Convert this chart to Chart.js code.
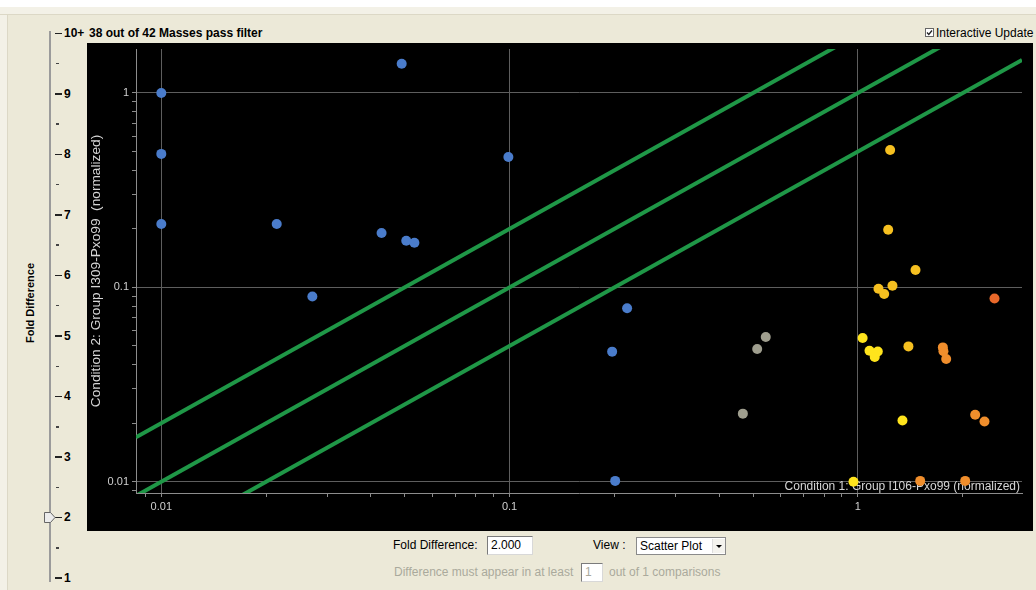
<!DOCTYPE html>
<html>
<head>
<meta charset="utf-8">
<title>Masses scatter plot</title>
<script src="https://cdn.jsdelivr.net/npm/chart.js@4.4.0/dist/chart.umd.min.js"></script>
<style>
  body { margin: 0; width: 1036px; height: 590px; overflow: hidden; position: relative;
         background: #ece9d8; font-family: Arial, "Liberation Sans", sans-serif; color: #000; }
  .abs { position: absolute; white-space: nowrap; }
  .lbl { font-size: 12px; line-height: 14px; }
  .bold { font-weight: bold; }
  .box { position: absolute; background: #fff; border-top: 1px solid #7b7b7b; border-left: 1px solid #7b7b7b;
         border-right: 1px solid #d8d8d8; border-bottom: 1px solid #d8d8d8; box-sizing: border-box;
         font-size: 12px; line-height: 16px; padding-left: 3px; }
  .dis { color: #aaa99c; }
  #plot { position: absolute; left: 87px; top: 43px; width: 946px; height: 488px; background: #000; }
</style>
</head>
<body>
<div class="abs" style="left:0;top:0;width:1036px;height:7px;background:#fff"></div>
<div class="abs" style="left:0;top:7px;width:1036px;height:7px;background:#f3f1e7;border-bottom:1px solid #dcd8c6"></div>
<div class="abs" style="left:0;top:15px;width:7px;height:575px;background:#f3f1e7;border-right:1px solid #dcd8c6"></div>

<!-- fold difference slider -->
<div id="slider"></div>
<div class="abs" style="left:49px;top:31px;width:2px;height:551px;background:#9b9b9b"></div>
<svg class="abs" style="left:44px;top:512px" width="12" height="11">
  <polygon points="0.5,0.5 6.5,0.5 11,5.5 6.5,10.5 0.5,10.5" fill="#ececec" stroke="#666" stroke-width="1"/>
</svg>
<div class="abs bold" style="left:30px;top:303px;font-size:11px;transform:translate(-50%,-50%) rotate(-90deg)">Fold Difference</div>

<div class="abs lbl bold" style="left:89px;top:26px">38 out of 42 Masses pass filter</div>
<svg class="abs" style="left:925px;top:28px" width="9" height="9">
  <rect x="0.5" y="0.5" width="8" height="8" fill="#fff" stroke="#666"/>
  <path d="M2 4.5 L3.8 6.5 L7 2.5" fill="none" stroke="#222" stroke-width="1.3"/>
</svg>
<div class="abs lbl" style="left:936px;top:26px">Interactive Update</div>

<div id="plot"><canvas id="chart" width="946" height="488"></canvas></div>

<!-- controls under the plot -->
<div class="abs lbl" style="left:393px;top:538px">Fold Difference:</div>
<div class="box" style="left:487px;top:536px;width:46px;height:19px">2.000</div>
<div class="abs lbl" style="left:593px;top:538px">View :</div>
<div class="box" style="left:636px;top:537px;width:90px;height:18px;border:1px solid #8a8a8a">Scatter Plot</div>
<div class="abs" style="left:712px;top:539px;width:12px;height:14px;background:#f4f3ee;border-left:1px solid #ddd"></div>
<div class="abs" style="left:716px;top:545px;width:0;height:0;border-left:3px solid transparent;border-right:3px solid transparent;border-top:3px solid #000"></div>
<div class="abs lbl dis" style="left:394px;top:565px">Difference must appear in at least</div>
<div class="box dis" style="left:581px;top:563px;width:22px;height:19px">1</div>
<div class="abs lbl dis" style="left:609px;top:565px">out of 1 comparisons</div>

<script>
// slider labels, top to bottom
const sliderLabels = ["10+", "9", "8", "7", "6", "5", "4", "3", "2", "1"];

// axis ranges and labelled ticks
const xRange = [0.00846, 2.96];
const yRange = [0.00875, 1.684];
const xMajorTicks = [0.01, 0.1, 1];
const xTickLabels = ["0.01", "0.1", "1"];
const yMajorTicks = [0.01, 0.1, 1];
const yTickLabels = ["0.01", "0.1", "1"];

// fold difference threshold lines
const foldDifference = 2.0;
const foldFactors = [foldDifference, 1, 1 / foldDifference];

// masses, grouped by colour (condition 1 value, condition 2 value)
const blueX = [0.01, 0.01, 0.01, 0.049, 0.02145, 0.02715, 0.0429, 0.0505, 0.0533, 0.0992, 0.2175, 0.197, 0.201];
const blueY = [1.0, 0.486, 0.212, 1.415, 0.212, 0.0898, 0.1905, 0.1738, 0.1697, 0.4686, 0.0781, 0.0467, 0.0101];
const grayX = [0.544, 0.514, 0.4675];
const grayY = [0.0555, 0.0482, 0.0224];
const goldX = [1.238, 1.222, 1.464, 1.146, 1.257, 1.19, 1.397];
const goldY = [0.5088, 0.198, 0.1228, 0.0984, 0.102, 0.0924, 0.0497];
const yellowX = [1.032, 1.08, 1.141, 1.118, 1.343, 0.9714];
const yellowY = [0.0549, 0.0472, 0.0468, 0.0438, 0.02067, 0.01];
const orangeX = [1.754, 1.761, 1.793, 2.172, 2.31, 1.51, 2.033];
const orangeY = [0.0491, 0.0469, 0.0428, 0.0221, 0.02043, 0.0101, 0.0101];
const redX = [2.468];
const redY = [0.0877];

// build the slider scale
const slider = document.getElementById("slider");
const step = 60.55;
sliderLabels.forEach((label, i) => {
  const y = 33 + i * step;
  slider.insertAdjacentHTML("beforeend",
    `<div class="abs" style="left:55px;top:${y - 0.5}px;width:7px;height:1.5px;background:#222"></div>` +
    `<div class="abs lbl bold" style="left:64px;top:${y - 7}px">${label}</div>`);
  if (i < sliderLabels.length - 1) {
    slider.insertAdjacentHTML("beforeend",
      `<div class="abs" style="left:56px;top:${y + step / 2 - 0.5}px;width:3px;height:1.5px;background:#444"></div>`);
  }
});

function zip(xs, ys) {
  return xs.map((x, i) => ({ x: x, y: ys[i] }));
}

// ticks at 1..9 x 10^n inside the range, labelled only on decades
function logTicks(scale) {
  const ticks = [];
  const e0 = Math.floor(Math.log10(scale.min));
  const e1 = Math.ceil(Math.log10(scale.max));
  for (let e = e0; e <= e1; e++) {
    for (let m = 1; m <= 9; m++) {
      const v = m * Math.pow(10, e);
      if (v >= scale.min && v <= scale.max) ticks.push({ value: v, major: m === 1 });
    }
  }
  scale.ticks = ticks;
}

function tickLabel(majors, labels) {
  return function (value, index, ticks) {
    if (!ticks[index].major) return "";
    const k = majors.findIndex((t) => Math.abs(Math.log10(t / value)) < 1e-6);
    return k >= 0 ? labels[k] : "";
  };
}

function noPadding(scale) {
  scale.paddingLeft = 0;
  scale.paddingRight = 0;
  scale.paddingTop = 0;
  scale.paddingBottom = 0;
}

const gridStyle = {
  color: (ctx) => (ctx.tick && ctx.tick.major ? "#5e5e5e" : "rgba(0,0,0,0)"),
  tickColor: "#8c8c8c",
  tickLength: 4,
  lineWidth: 1,
};

// x axis title sits inside the plot, bottom right
const xTitlePlugin = {
  id: "xTitle",
  beforeDatasetsDraw(chart) {
    const { ctx, chartArea } = chart;
    ctx.save();
    ctx.font = "12px Arial, 'Liberation Sans', sans-serif";
    ctx.fillStyle = "#d6d6d6";
    ctx.textAlign = "right";
    ctx.textBaseline = "middle";
    ctx.fillText("Condition 1: Group I106-Pxo99 (normalized)", chartArea.right - 2, chartArea.bottom - 6);
    ctx.restore();
  },
};

function pointSet(xs, ys, color) {
  return {
    data: zip(xs, ys),
    backgroundColor: color,
    borderWidth: 0,
    pointRadius: 5,
    pointHoverRadius: 5,
  };
}

const lineSets = foldFactors.map((f) => ({
  data: xRange.map((x) => ({ x: x, y: x * f })),
  showLine: true,
  borderColor: "#1f9747",
  borderWidth: 4,
  pointRadius: 0,
  fill: false,
}));

new Chart(document.getElementById("chart"), {
  type: "scatter",
  data: {
    datasets: [
      pointSet(redX, redY, "#e8682a"),
      pointSet(orangeX, orangeY, "#f08e2c"),
      pointSet(yellowX, yellowY, "#ffe41c"),
      pointSet(goldX, goldY, "#f6c020"),
      pointSet(grayX, grayY, "#9f9e8e"),
      pointSet(blueX, blueY, "#4a7ccb"),
      ...lineSets,
    ],
  },
  options: {
    responsive: false,
    animation: false,
    devicePixelRatio: 1,
    layout: { padding: { left: 0, right: 11, top: 6, bottom: 0 } },
    plugins: { legend: { display: false }, tooltip: { enabled: false } },
    scales: {
      x: {
        type: "logarithmic",
        min: xRange[0],
        max: xRange[1],
        bounds: "data",
        afterBuildTicks: logTicks,
        afterFit: (scale) => { scale.height = 38; noPadding(scale); },
        ticks: {
          autoSkip: false,
          maxRotation: 0,
          padding: 3,
          color: "#cfcfcf",
          font: { family: "Arial, 'Liberation Sans', sans-serif", size: 11 },
          callback: tickLabel(xMajorTicks, xTickLabels),
        },
        grid: gridStyle,
        border: { display: true, color: "#8c8c8c", width: 1 },
      },
      y: {
        type: "logarithmic",
        min: yRange[0],
        max: yRange[1],
        bounds: "data",
        afterBuildTicks: logTicks,
        afterFit: (scale) => { scale.width = 49; noPadding(scale); },
        ticks: {
          autoSkip: false,
          padding: 3,
          color: "#cfcfcf",
          font: { family: "Arial, 'Liberation Sans', sans-serif", size: 11 },
          callback: tickLabel(yMajorTicks, yTickLabels),
        },
        grid: gridStyle,
        border: { display: true, color: "#8c8c8c", width: 1 },
        title: {
          display: true,
          text: "Condition 2: Group I309-Pxo99  (normalized)",
          color: "#d6d6d6",
          font: { family: "Arial, 'Liberation Sans', sans-serif", size: 13.7 },
          padding: { top: 1, bottom: 0 },
        },
      },
    },
  },
  plugins: [xTitlePlugin],
});
</script>
</body>
</html>
